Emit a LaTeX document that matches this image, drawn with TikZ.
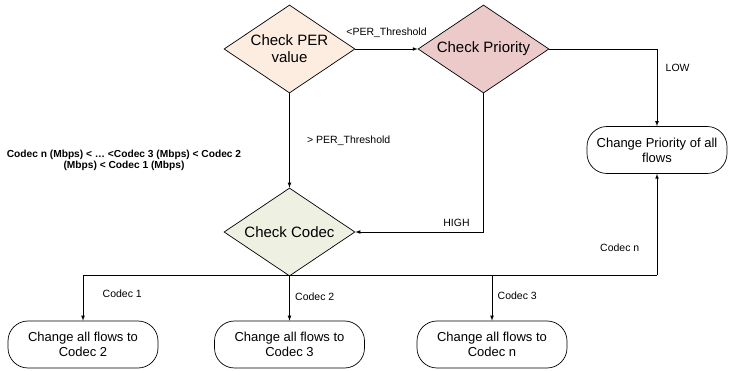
\documentclass[tikz,border=0pt]{standalone}
\usepackage{fontspec}
\setmainfont{Liberation Sans}
\usetikzlibrary{shapes.geometric}
\definecolor{perfill}{HTML}{FDEDE0}
\definecolor{priofill}{HTML}{EDCACA}
\definecolor{codecfill}{HTML}{EEF1E2}
\tikzset{
  decide/.style={diamond, draw, aspect=1.5, inner sep=0pt, minimum width=131pt, minimum height=88pt, align=center, font=\fontsize{15}{17}\selectfont},
  action/.style={rectangle, draw, rounded corners=20pt, align=center, minimum height=47pt, font=\fontsize{13}{15}\selectfont},
  lbl/.style={font=\fontsize{10.5}{12}\selectfont}
}
\begin{document}
\begin{tikzpicture}[x=1pt, y=-1pt, >=latex, line width=0.7pt]
        \useasboundingbox (0,0) rectangle (729,371);
        \node[decide, fill=perfill] (per) at (289.5,49) {Check PER\\value};
        \node[decide, fill=priofill] (prio) at (483.5,49) {Check Priority};
        \node[decide, fill=codecfill] (codec) at (289.5,232) {Check Codec};
        \node[action, minimum width=140pt] (chprio) at (657,150) {Change Priority of all\\flows};
        \node[action, minimum width=150pt] (to2) at (83,344.5) {Change all flows to\\Codec 2};
        \node[action, minimum width=150pt] (to3) at (289.5,344.5) {Change all flows to\\Codec 3};
        \node[action, minimum width=150pt] (ton) at (492,344.5) {Change all flows to\\Codec n};
        % connectors
        \draw[->] (per.east) -- (prio.west) node[midway, above=8pt, lbl] {<PER\_Threshold};
        \draw[->] (per.south) -- (codec.north) node[midway, right=14pt, lbl] {> PER\_Threshold};
        \draw[->] (prio.east) -| (chprio.north) node[pos=0.62, right=5pt, lbl] {LOW};
        \draw[->] (prio.south) |- (codec.east) node[pos=0.5, above=2pt, xshift=-27pt, lbl] {HIGH};
        \coordinate (bus) at (83,275);
        \draw (bus) -- (657,275);
        \draw[->] (657,275) -- (chprio.south) node[pos=0.27, left=14pt, lbl] {Codec n};
        \draw[->] (bus) -- (to2.north) node[pos=0.4, right=16pt, lbl] {Codec 1};
        \draw[->] (codec.south) -- (to3.north) node[pos=0.45, right=2pt, lbl] {Codec 2};
        \draw[->] (ton.north |- bus) -- (ton.north) node[pos=0.45, right=2pt, lbl] {Codec 3};
        \node[align=center, font=\fontsize{10.2}{11.5}\selectfont\bfseries] (order) at (124,160.5) {Codec n (Mbps) < \dots\ <Codec 3 (Mbps) < Codec 2\\(Mbps) < Codec 1 (Mbps)};
      \end{tikzpicture}
\end{document}
